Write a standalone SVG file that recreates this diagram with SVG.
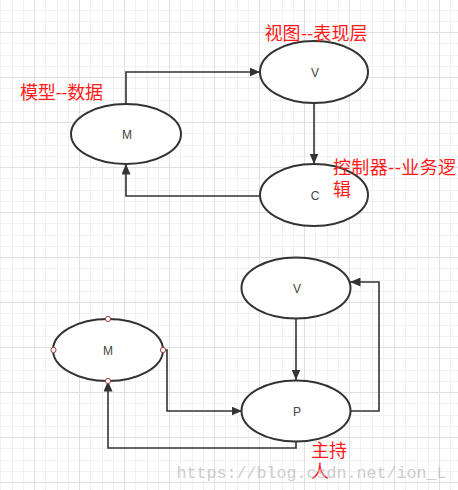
<svg xmlns="http://www.w3.org/2000/svg" width="458" height="490" viewBox="0 0 458 490">
<style>
.node{fill:#ffffff;stroke:#333333;stroke-width:2}
.lbl{font-family:"Liberation Sans",Arial,sans-serif;font-size:12px;fill:#444444;text-anchor:middle}
.note{font-family:"Noto Sans CJK SC","Noto Sans",sans-serif;font-size:18px;fill:#ff1a1a}
.conn{fill:none;stroke:#333333;stroke-width:1.6}
.pt{fill:#ffffff;stroke:#a03a3a;stroke-width:1}
.wm{font-family:"Liberation Mono","Courier New",monospace;font-size:16.7px;fill:#bdbdbd;opacity:0.75}
</style>
<defs>
<pattern id="grid" x="34" y="32" width="45" height="45" patternUnits="userSpaceOnUse">
<rect x="11" y="0" width="1" height="45" fill="#f1f1f1"/>
<rect x="23" y="0" width="1" height="45" fill="#f1f1f1"/>
<rect x="34" y="0" width="1" height="45" fill="#f1f1f1"/>
<rect x="0" y="11" width="45" height="1" fill="#f1f1f1"/>
<rect x="0" y="23" width="45" height="1" fill="#f1f1f1"/>
<rect x="0" y="34" width="45" height="1" fill="#f1f1f1"/>
<rect x="0" y="0" width="1" height="45" fill="#e0e0e0"/>
<rect x="0" y="0" width="45" height="1" fill="#e0e0e0"/>
</pattern>
<marker id="arr" markerUnits="userSpaceOnUse" markerWidth="11" markerHeight="9" refX="10.5" refY="4.5" orient="auto">
<path d="M0,0 L10.5,4.5 L0,9 z" fill="#333333"/>
</marker>
</defs>
<rect width="458" height="490" fill="#ffffff"/>
<rect width="458" height="490" fill="url(#grid)"/>

<g id="connectors">
<path class="conn" d="M126,103 V72 H260" marker-end="url(#arr)"/>
<path class="conn" d="M314,103 V164" marker-end="url(#arr)"/>
<path class="conn" d="M260,196 H126 V164" marker-end="url(#arr)"/>
<path class="conn" d="M163,350 H167 V411 H242" marker-end="url(#arr)"/>
<path class="conn" d="M296,319 V380" marker-end="url(#arr)"/>
<path class="conn" d="M351,411 H379 V282 H350" marker-end="url(#arr)"/>
<path class="conn" d="M296,442 V448 H108 V381" marker-end="url(#arr)"/>
</g>

<g id="node-m1">
<ellipse class="node" cx="126" cy="134" rx="55" ry="30"/>
<text class="lbl" x="127" y="139">M</text>
</g>
<g id="node-v1">
<ellipse class="node" cx="314" cy="72" rx="54" ry="31"/>
<text class="lbl" x="315" y="77">V</text>
</g>
<g id="node-c1">
<ellipse class="node" cx="314" cy="195" rx="54" ry="31"/>
<text class="lbl" x="315" y="200">C</text>
</g>
<g id="node-v2">
<ellipse class="node" cx="296" cy="288" rx="54.5" ry="30.5"/>
<text class="lbl" x="297" y="292.5">V</text>
</g>
<g id="node-m2">
<ellipse class="node" cx="108" cy="350" rx="55" ry="31"/>
<text class="lbl" x="108" y="355">M</text>
<circle class="pt" cx="108" cy="319" r="2.6"/>
<circle class="pt" cx="53.5" cy="350" r="2.6"/>
<circle class="pt" cx="163" cy="350" r="2.6"/>
<circle class="pt" cx="108" cy="381" r="2.6"/>
</g>
<g id="node-p">
<ellipse class="node" cx="296" cy="411" rx="54.5" ry="30.5"/>
<text class="lbl" x="297" y="415.5">P</text>
</g>

<g id="notes">
<text class="note" x="20" y="99" textLength="83" lengthAdjust="spacing">模型--数据</text>
<text class="note" x="264.5" y="40.3" textLength="103" lengthAdjust="spacing">视图--表现层</text>
<text class="note" x="333" y="173.7" textLength="123" lengthAdjust="spacing">控制器--业务逻</text>
<text class="note" x="333" y="196">辑</text>
<text class="note" x="311" y="456.8">主持</text>
<text class="note" x="311" y="478">人</text>
</g>

<text class="wm" x="176.5" y="478" textLength="270" lengthAdjust="spacing">https://blog.csdn.net/ion_L</text>
</svg>
